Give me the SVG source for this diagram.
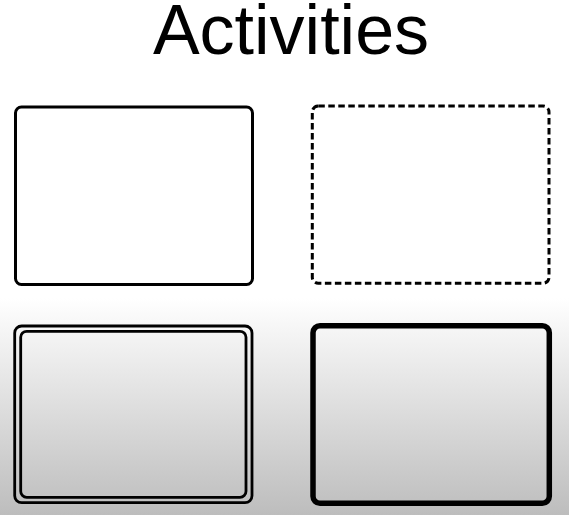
<svg xmlns="http://www.w3.org/2000/svg" width="569" height="515" viewBox="0 0 569 515">
  <defs>
    <linearGradient id="bg" x1="0" y1="0" x2="0" y2="1">
      <stop offset="0" stop-color="#ffffff"/>
      <stop offset="1" stop-color="#bdbdbd"/>
    </linearGradient>
    <style>
      .box { fill: none; stroke: #000; }
      .title { font-family: "Liberation Sans", Arial, sans-serif; font-size: 70px; fill: #000; }
    </style>
  </defs>
  <rect x="0" y="0" width="569" height="515" fill="#ffffff"/>
  <rect x="0" y="298" width="569" height="217" fill="url(#bg)"/>
  <text class="title" x="291" y="54" text-anchor="middle">Activities</text>
  <g id="activity-plain">
    <rect class="box" x="15.5" y="107" width="237" height="177.5" rx="6" stroke-width="3"/>
  </g>
  <g id="activity-dashed">
    <rect class="box" x="312.3" y="106" width="236.7" height="177.3" rx="6" stroke-width="3" stroke-dasharray="6.5 3.5"/>
  </g>
  <g id="activity-double">
    <rect class="box" x="14.7" y="326" width="237.3" height="176.7" rx="7" stroke-width="2.8"/>
    <rect class="box" x="20.7" y="331.3" width="225.3" height="166" rx="6" stroke-width="2.8"/>
  </g>
  <g id="activity-thick">
    <rect class="box" x="313" y="325.7" width="236.3" height="177.6" rx="7" stroke-width="5.5"/>
  </g>
  <g id="connectors"/>
</svg>
